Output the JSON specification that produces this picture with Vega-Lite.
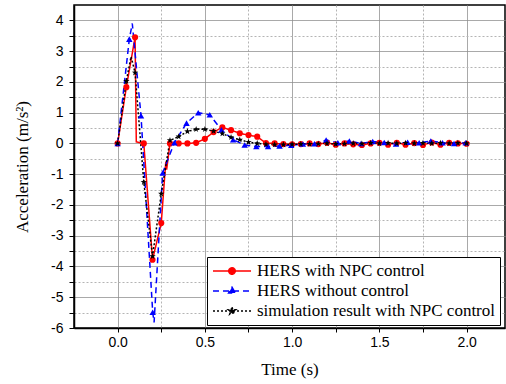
{
  "$schema": "https://vega.github.io/schema/vega-lite/v6.json",
  "width": 431,
  "height": 323,
  "autosize": {"type": "none"},
  "padding": {"left": 74, "top": 5, "right": 1, "bottom": 56},
  "config": {
    "view": {"stroke": "#000000", "strokeWidth": 1.5},
    "axis": {"labelColor": "#000000", "titleColor": "#000000", "tickColor": "#000000", "domainColor": "#000000", "domainWidth": 1.5}
  },
  "datasets": {
    "acc": [
      {"s": "HERS with NPC control", "t": 0, "a": 0, "sample": true},
      {"s": "HERS with NPC control", "t": 0.05, "a": 1.83, "sample": true},
      {"s": "HERS with NPC control", "t": 0.1, "a": 3.45, "sample": true},
      {"s": "HERS with NPC control", "t": 0.107, "a": 0.05, "sample": false},
      {"s": "HERS with NPC control", "t": 0.15, "a": 0.0, "sample": true},
      {"s": "HERS with NPC control", "t": 0.2, "a": -3.78, "sample": true},
      {"s": "HERS with NPC control", "t": 0.25, "a": -2.59, "sample": true},
      {"s": "HERS with NPC control", "t": 0.276, "a": -0.6, "sample": false},
      {"s": "HERS with NPC control", "t": 0.281, "a": -0.85, "sample": false},
      {"s": "HERS with NPC control", "t": 0.3, "a": 0.0, "sample": true},
      {"s": "HERS with NPC control", "t": 0.35, "a": 0.0, "sample": true},
      {"s": "HERS with NPC control", "t": 0.4, "a": 0.0, "sample": true},
      {"s": "HERS with NPC control", "t": 0.45, "a": 0.02, "sample": true},
      {"s": "HERS with NPC control", "t": 0.5, "a": 0.15, "sample": true},
      {"s": "HERS with NPC control", "t": 0.55, "a": 0.37, "sample": true},
      {"s": "HERS with NPC control", "t": 0.6, "a": 0.52, "sample": true},
      {"s": "HERS with NPC control", "t": 0.65, "a": 0.43, "sample": true},
      {"s": "HERS with NPC control", "t": 0.7, "a": 0.33, "sample": true},
      {"s": "HERS with NPC control", "t": 0.75, "a": 0.27, "sample": true},
      {"s": "HERS with NPC control", "t": 0.8, "a": 0.22, "sample": true},
      {"s": "HERS with NPC control", "t": 0.85, "a": 0.01, "sample": true},
      {"s": "HERS with NPC control", "t": 0.9, "a": 0.0, "sample": true},
      {"s": "HERS with NPC control", "t": 0.95, "a": -0.02, "sample": true},
      {"s": "HERS with NPC control", "t": 1.0, "a": -0.03, "sample": true},
      {"s": "HERS with NPC control", "t": 1.05, "a": -0.02, "sample": true},
      {"s": "HERS with NPC control", "t": 1.1, "a": 0.0, "sample": true},
      {"s": "HERS with NPC control", "t": 1.15, "a": -0.02, "sample": true},
      {"s": "HERS with NPC control", "t": 1.2, "a": 0.02, "sample": true},
      {"s": "HERS with NPC control", "t": 1.25, "a": -0.04, "sample": true},
      {"s": "HERS with NPC control", "t": 1.3, "a": 0.0, "sample": true},
      {"s": "HERS with NPC control", "t": 1.35, "a": -0.03, "sample": true},
      {"s": "HERS with NPC control", "t": 1.4, "a": -0.05, "sample": true},
      {"s": "HERS with NPC control", "t": 1.45, "a": 0.0, "sample": true},
      {"s": "HERS with NPC control", "t": 1.5, "a": 0.02, "sample": true},
      {"s": "HERS with NPC control", "t": 1.55, "a": -0.04, "sample": true},
      {"s": "HERS with NPC control", "t": 1.6, "a": 0.02, "sample": true},
      {"s": "HERS with NPC control", "t": 1.65, "a": -0.04, "sample": true},
      {"s": "HERS with NPC control", "t": 1.7, "a": 0.01, "sample": true},
      {"s": "HERS with NPC control", "t": 1.75, "a": -0.05, "sample": true},
      {"s": "HERS with NPC control", "t": 1.8, "a": 0.03, "sample": true},
      {"s": "HERS with NPC control", "t": 1.85, "a": -0.04, "sample": true},
      {"s": "HERS with NPC control", "t": 1.9, "a": 0.02, "sample": true},
      {"s": "HERS with NPC control", "t": 1.95, "a": 0.0, "sample": true},
      {"s": "HERS with NPC control", "t": 2.0, "a": -0.01, "sample": true},

      {"s": "HERS without control", "t": 0, "a": 0, "sample": true},
      {"s": "HERS without control", "t": 0.067, "a": 3.39, "sample": true},
      {"s": "HERS without control", "t": 0.084, "a": 3.9, "sample": false},
      {"s": "HERS without control", "t": 0.134, "a": 0.9, "sample": true},
      {"s": "HERS without control", "t": 0.201, "a": -5.49, "sample": true},
      {"s": "HERS without control", "t": 0.209, "a": -5.82, "sample": false},
      {"s": "HERS without control", "t": 0.258, "a": -0.96, "sample": true},
      {"s": "HERS without control", "t": 0.325, "a": 0.02, "sample": true},
      {"s": "HERS without control", "t": 0.395, "a": 0.66, "sample": true},
      {"s": "HERS without control", "t": 0.462, "a": 1.0, "sample": true},
      {"s": "HERS without control", "t": 0.528, "a": 0.93, "sample": true},
      {"s": "HERS without control", "t": 0.595, "a": 0.44, "sample": true},
      {"s": "HERS without control", "t": 0.662, "a": 0.12, "sample": true},
      {"s": "HERS without control", "t": 0.728, "a": -0.05, "sample": true},
      {"s": "HERS without control", "t": 0.795, "a": -0.1, "sample": true},
      {"s": "HERS without control", "t": 0.862, "a": -0.1, "sample": true},
      {"s": "HERS without control", "t": 0.928, "a": -0.08, "sample": true},
      {"s": "HERS without control", "t": 0.995, "a": -0.06, "sample": true},
      {"s": "HERS without control", "t": 1.062, "a": -0.02, "sample": true},
      {"s": "HERS without control", "t": 1.128, "a": -0.01, "sample": true},
      {"s": "HERS without control", "t": 1.195, "a": 0.11, "sample": true},
      {"s": "HERS without control", "t": 1.262, "a": 0.02, "sample": true},
      {"s": "HERS without control", "t": 1.328, "a": 0.08, "sample": true},
      {"s": "HERS without control", "t": 1.395, "a": 0.0, "sample": true},
      {"s": "HERS without control", "t": 1.462, "a": 0.06, "sample": true},
      {"s": "HERS without control", "t": 1.528, "a": 0.03, "sample": true},
      {"s": "HERS without control", "t": 1.595, "a": -0.02, "sample": true},
      {"s": "HERS without control", "t": 1.662, "a": 0.04, "sample": true},
      {"s": "HERS without control", "t": 1.728, "a": 0.02, "sample": true},
      {"s": "HERS without control", "t": 1.795, "a": 0.08, "sample": true},
      {"s": "HERS without control", "t": 1.862, "a": 0.02, "sample": true},
      {"s": "HERS without control", "t": 1.928, "a": 0.0, "sample": true},
      {"s": "HERS without control", "t": 1.995, "a": 0.02, "sample": true},

      {"s": "simulation result with NPC control", "t": 0, "a": 0, "sample": true},
      {"s": "simulation result with NPC control", "t": 0.05, "a": 2.03, "sample": true},
      {"s": "simulation result with NPC control", "t": 0.077, "a": 2.82, "sample": false},
      {"s": "simulation result with NPC control", "t": 0.1, "a": 2.3, "sample": true},
      {"s": "simulation result with NPC control", "t": 0.15, "a": -1.26, "sample": true},
      {"s": "simulation result with NPC control", "t": 0.2, "a": -3.67, "sample": true},
      {"s": "simulation result with NPC control", "t": 0.25, "a": -1.64, "sample": true},
      {"s": "simulation result with NPC control", "t": 0.3, "a": 0.1, "sample": true},
      {"s": "simulation result with NPC control", "t": 0.35, "a": 0.22, "sample": true},
      {"s": "simulation result with NPC control", "t": 0.4, "a": 0.39, "sample": true},
      {"s": "simulation result with NPC control", "t": 0.45, "a": 0.46, "sample": true},
      {"s": "simulation result with NPC control", "t": 0.5, "a": 0.46, "sample": true},
      {"s": "simulation result with NPC control", "t": 0.55, "a": 0.4, "sample": true},
      {"s": "simulation result with NPC control", "t": 0.6, "a": 0.32, "sample": true},
      {"s": "simulation result with NPC control", "t": 0.65, "a": 0.2, "sample": true},
      {"s": "simulation result with NPC control", "t": 0.7, "a": 0.12, "sample": true},
      {"s": "simulation result with NPC control", "t": 0.75, "a": 0.04, "sample": true},
      {"s": "simulation result with NPC control", "t": 0.8, "a": 0.0, "sample": true},
      {"s": "simulation result with NPC control", "t": 0.85, "a": -0.03, "sample": true},
      {"s": "simulation result with NPC control", "t": 0.9, "a": -0.04, "sample": true},
      {"s": "simulation result with NPC control", "t": 0.95, "a": -0.04, "sample": true},
      {"s": "simulation result with NPC control", "t": 1.0, "a": -0.03, "sample": true},
      {"s": "simulation result with NPC control", "t": 1.05, "a": -0.02, "sample": true},
      {"s": "simulation result with NPC control", "t": 1.1, "a": -0.02, "sample": true},
      {"s": "simulation result with NPC control", "t": 1.15, "a": -0.01, "sample": true},
      {"s": "simulation result with NPC control", "t": 1.2, "a": 0.0, "sample": true},
      {"s": "simulation result with NPC control", "t": 1.25, "a": -0.02, "sample": true},
      {"s": "simulation result with NPC control", "t": 1.3, "a": -0.01, "sample": true},
      {"s": "simulation result with NPC control", "t": 1.35, "a": 0.0, "sample": true},
      {"s": "simulation result with NPC control", "t": 1.4, "a": -0.01, "sample": true},
      {"s": "simulation result with NPC control", "t": 1.45, "a": 0.01, "sample": true},
      {"s": "simulation result with NPC control", "t": 1.5, "a": 0.0, "sample": true},
      {"s": "simulation result with NPC control", "t": 1.55, "a": 0.01, "sample": true},
      {"s": "simulation result with NPC control", "t": 1.6, "a": 0.0, "sample": true},
      {"s": "simulation result with NPC control", "t": 1.65, "a": 0.01, "sample": true},
      {"s": "simulation result with NPC control", "t": 1.7, "a": 0.0, "sample": true},
      {"s": "simulation result with NPC control", "t": 1.75, "a": 0.01, "sample": true},
      {"s": "simulation result with NPC control", "t": 1.8, "a": 0.0, "sample": true},
      {"s": "simulation result with NPC control", "t": 1.85, "a": 0.01, "sample": true},
      {"s": "simulation result with NPC control", "t": 1.9, "a": 0.0, "sample": true},
      {"s": "simulation result with NPC control", "t": 1.95, "a": 0.01, "sample": true},
      {"s": "simulation result with NPC control", "t": 2.0, "a": 0.0, "sample": true}
    ]
  },
  "data": {"name": "acc"},
  "layer": [
    {
      "encoding": {
        "x": {
          "field": "t", "type": "quantitative",
          "scale": {"domain": [-0.25, 2.22], "nice": false, "zero": false},
          "axis": {
            "values": [0, 0.25, 0.5, 0.75, 1, 1.25, 1.5, 1.75, 2],
            "labelExpr": "datum.value === 0 || datum.value === 0.5 || datum.value === 1 || datum.value === 1.5 || datum.value === 2 ? format(datum.value, '.1f') : ''",
            "labelFont": "Liberation Sans", "labelFontSize": 14, "labelPadding": 3, "labelOverlap": false,
            "tickSize": 4, "tickWidth": 1,
            "grid": true,
            "gridColor": {"condition": {"test": "datum.value === 0.25 || datum.value === 0.75 || datum.value === 1.25 || datum.value === 1.75", "value": "#b4b4b4"}, "value": "#8c8c8c"},
            "gridDash": {"condition": {"test": "datum.value === 0.25 || datum.value === 0.75 || datum.value === 1.25 || datum.value === 1.75", "value": [2, 2]}, "value": [1, 0]},
            "gridWidth": 1,
            "title": "Time (s)", "titleFont": "Liberation Serif", "titleFontSize": 17, "titleFontWeight": "normal", "titlePadding": 12
          }
        },
        "y": {
          "field": "a", "type": "quantitative",
          "scale": {"domain": [-6, 4.5], "nice": false, "zero": false},
          "axis": {
            "values": [-6, -5.5, -5, -4.5, -4, -3.5, -3, -2.5, -2, -1.5, -1, -0.5, 0, 0.5, 1, 1.5, 2, 2.5, 3, 3.5, 4],
            "labelExpr": "round(datum.value) === datum.value ? '' + datum.value : ''",
            "labelFont": "Liberation Sans", "labelFontSize": 14, "labelPadding": 6, "labelOverlap": false,
            "tickSize": 5, "tickWidth": 1,
            "grid": true,
            "gridColor": {"condition": {"test": "round(datum.value) !== datum.value", "value": "#b4b4b4"}, "value": "#8c8c8c"},
            "gridDash": {"condition": {"test": "round(datum.value) !== datum.value", "value": [2, 2]}, "value": [1, 0]},
            "gridWidth": 1,
            "title": "Acceleration (m/s²)", "titleFont": "Liberation Serif", "titleFontSize": 17, "titleFontWeight": "normal", "titlePadding": 19
          }
        }
      },
      "layer": [
        {
          "mark": {"type": "line", "strokeWidth": 1.5},
          "encoding": {
            "color": {
              "field": "s", "type": "nominal",
              "scale": {"domain": ["HERS with NPC control", "HERS without control", "simulation result with NPC control"], "range": ["#ff0000", "#0000ff", "#000000"]},
              "legend": null
            },
            "strokeDash": {
              "field": "s", "type": "nominal",
              "scale": {"domain": ["HERS with NPC control", "HERS without control", "simulation result with NPC control"], "range": [[1, 0], [6, 4], [2, 2]]},
              "legend": null
            }
          }
        },
        {
          "transform": [{"filter": "datum.sample"}],
          "mark": {"type": "point", "filled": true, "opacity": 1},
          "encoding": {
            "color": {"field": "s", "type": "nominal", "legend": null},
            "shape": {
              "field": "s", "type": "nominal",
              "scale": {"domain": ["HERS with NPC control", "HERS without control", "simulation result with NPC control"], "range": ["circle", "triangle-up", "M0,-1L0.235,-0.324L0.951,-0.309L0.38,0.124L0.588,0.809L0,0.4L-0.588,0.809L-0.38,0.124L-0.951,-0.309L-0.235,-0.324Z"]},
              "legend": null
            },
            "size": {
              "field": "s", "type": "nominal",
              "scale": {"domain": ["HERS with NPC control", "HERS without control", "simulation result with NPC control"], "range": [38, 45, 64]},
              "legend": null
            }
          }
        }
      ]
    },
    {
      "transform": [{"filter": "false"}],
      "mark": {"type": "point", "filled": true, "opacity": 1, "strokeWidth": 1.5},
      "encoding": {
        "color": {
          "field": "s", "type": "nominal",
          "scale": {"domain": ["HERS with NPC control", "HERS without control", "simulation result with NPC control"], "range": ["#ff0000", "#0000ff", "#000000"]},
          "legend": {
            "title": null, "orient": "none", "legendX": 133, "legendY": 252,
            "fillColor": "#ffffff", "strokeColor": "#000000", "padding": 5,
            "labelFont": "Liberation Serif", "labelFontSize": 17, "labelColor": "#000000", "labelOffset": 5, "labelLimit": 400,
            "symbolSize": 1444, "symbolStrokeWidth": 1.5, "symbolOpacity": 1, "rowPadding": 2, "clipHeight": 18
          }
        },
        "stroke": {
          "field": "s", "type": "nominal",
          "scale": {"domain": ["HERS with NPC control", "HERS without control", "simulation result with NPC control"], "range": ["#ff0000", "#0000ff", "#000000"]},
          "legend": {"title": null}
        },
        "shape": {
          "field": "s", "type": "nominal",
          "scale": {"domain": ["HERS with NPC control", "HERS without control", "simulation result with NPC control"], "range": [
            "M-1,0L1,0M0.17,0A0.17,0.17,0,1,1,-0.17,0A0.17,0.17,0,1,1,0.17,0Z",
            "M-1,0L1,0M0,-0.2L0.18,0.11L-0.18,0.11Z",
            "M-1,0L1,0M0,-0.2L0.047,-0.065L0.19,-0.062L0.076,0.025L0.118,0.162L0,0.08L-0.118,0.162L-0.076,0.025L-0.19,-0.062L-0.047,-0.065Z"
          ]},
          "legend": {"title": null}
        },
        "strokeDash": {
          "field": "s", "type": "nominal",
          "scale": {"domain": ["HERS with NPC control", "HERS without control", "simulation result with NPC control"], "range": [[1, 0], [6, 4], [2, 2]]},
          "legend": {"title": null}
        }
      }
    }
  ],
  "resolve": {
    "scale": {"color": "independent", "stroke": "independent", "shape": "independent", "strokeDash": "independent", "size": "independent"}
  }
}
